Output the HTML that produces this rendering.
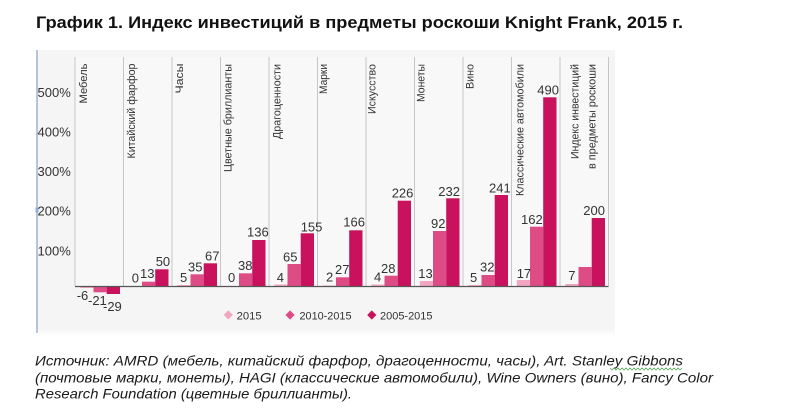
<!DOCTYPE html>
<html>
<head>
<meta charset="utf-8">
<style>
  html,body{margin:0;padding:0;background:#fff;}
  body{width:800px;height:416px;overflow:hidden;}
  svg{display:block;}
  text{font-family:"Liberation Sans","Noto Sans CJK SC",sans-serif;}
</style>
</head>
<body>
<svg width="800" height="416" viewBox="0 0 800 416" xmlns="http://www.w3.org/2000/svg">
  <defs>
    <linearGradient id="fade" x1="0" y1="0" x2="0" y2="1">
      <stop offset="0" stop-color="#F4F4F4"/>
      <stop offset="1" stop-color="#FFFFFF"/>
    </linearGradient>
  </defs>
  <rect x="0" y="0" width="800" height="416" fill="#FFFFFF"/>

  <!-- Title -->
  <text x="36" y="28" font-size="17" font-weight="bold" fill="#111" textLength="647" lengthAdjust="spacingAndGlyphs">График 1. Индекс инвестиций в предметы роскоши Knight Frank, 2015 г.</text>

  <!-- Panel -->
  <rect x="37" y="50" width="578" height="280" fill="#F5F5F5"/>
  <rect x="37" y="328" width="578" height="8" fill="url(#fade)"/>
  <rect x="75" y="57" width="533.5" height="229" fill="#F8F8F8"/>

  <!-- Left axis line -->
  <line x1="37" y1="50" x2="37" y2="333" stroke="#9FB4CC" stroke-width="1.5"/>
  <rect x="35.5" y="207.5" width="3" height="5" fill="#8FB0DA"/>

  <!-- Y labels -->
  <g font-size="13" fill="#333">
    <text x="37.5" y="97">500%</text>
    <text x="37.5" y="136.5">400%</text>
    <text x="37.5" y="176">300%</text>
    <text x="37.5" y="215.5">200%</text>
    <text x="37.5" y="255.5">100%</text>
  </g>

  <!-- Category separators -->
  <g stroke="#C6C6C6" stroke-width="1">
    <line x1="75" y1="57" x2="75" y2="286"/>
    <line x1="123.5" y1="57" x2="123.5" y2="286"/>
    <line x1="172" y1="57" x2="172" y2="286"/>
    <line x1="220.5" y1="57" x2="220.5" y2="286"/>
    <line x1="269" y1="57" x2="269" y2="286"/>
    <line x1="317.5" y1="57" x2="317.5" y2="286"/>
    <line x1="366" y1="57" x2="366" y2="286"/>
    <line x1="414.5" y1="57" x2="414.5" y2="286"/>
    <line x1="463" y1="57" x2="463" y2="286"/>
    <line x1="511.5" y1="57" x2="511.5" y2="286"/>
    <line x1="560" y1="57" x2="560" y2="286"/>
    <line x1="608.5" y1="57" x2="608.5" y2="286"/>
  </g>

  <!-- Category labels (rotated) -->
  <g font-size="11" fill="#333" text-anchor="end">
    <text transform="translate(87,63.5) rotate(-90)" textLength="40" lengthAdjust="spacingAndGlyphs">Мебель</text>
    <text transform="translate(135,63.5) rotate(-90)" textLength="95" lengthAdjust="spacingAndGlyphs">Китайский фарфор</text>
    <text transform="translate(183,63.5) rotate(-90)" textLength="30" lengthAdjust="spacingAndGlyphs">Часы</text>
    <text transform="translate(231.7,64) rotate(-90)" textLength="108" lengthAdjust="spacingAndGlyphs">Цветные бриллианты</text>
    <text transform="translate(280.4,64) rotate(-90)" textLength="75" lengthAdjust="spacingAndGlyphs">Драгоценности</text>
    <text transform="translate(327,64) rotate(-90)" textLength="30" lengthAdjust="spacingAndGlyphs">Марки</text>
    <text transform="translate(375.4,64) rotate(-90)" textLength="50" lengthAdjust="spacingAndGlyphs">Искусство</text>
    <text transform="translate(424.7,64) rotate(-90)" textLength="38" lengthAdjust="spacingAndGlyphs">Монеты</text>
    <text transform="translate(473.7,64) rotate(-90)" textLength="25" lengthAdjust="spacingAndGlyphs">Вино</text>
    <text transform="translate(523.7,64) rotate(-90)" textLength="132" lengthAdjust="spacingAndGlyphs">Классические автомобили</text>
    <text transform="translate(578.7,64) rotate(-90)" textLength="95" lengthAdjust="spacingAndGlyphs">Индекс инвестиций</text>
    <text transform="translate(595.4,64) rotate(-90)" textLength="105" lengthAdjust="spacingAndGlyphs">в предметы роскоши</text>
  </g>

  <!-- Bars: light (2015) -->
  <g fill="#F2A6C2">
    <rect x="80.3" y="286.5" width="13.2" height="1.5"/>
    <rect x="177.3" y="285" width="13.2" height="1.5"/>
    <rect x="274.3" y="284.5" width="13.2" height="2"/>
    <rect x="322.8" y="285.5" width="13.2" height="1"/>
    <rect x="371.3" y="284.5" width="13.2" height="2"/>
    <rect x="419.8" y="281" width="13.2" height="5.5"/>
    <rect x="468.3" y="285" width="13.2" height="1.5"/>
    <rect x="516.8" y="280" width="13.2" height="6.5"/>
    <rect x="565.3" y="284" width="13.2" height="2.5"/>
  </g>
  <!-- Bars: mid (2010-2015) -->
  <g fill="#DE4C86">
    <rect x="93.5" y="286.5" width="13.2" height="5.8"/>
    <rect x="142" y="281.7" width="13.2" height="4.8"/>
    <rect x="190.5" y="274.3" width="13.2" height="12.2"/>
    <rect x="239" y="273.3" width="13.2" height="13.2"/>
    <rect x="287.5" y="264" width="13.2" height="22.5"/>
    <rect x="336" y="277.3" width="13.2" height="9.2"/>
    <rect x="384.5" y="275.7" width="13.2" height="10.8"/>
    <rect x="433" y="231" width="13.2" height="55.5"/>
    <rect x="481.5" y="275" width="13.2" height="11.5"/>
    <rect x="530" y="226.7" width="13.2" height="59.8"/>
    <rect x="578.5" y="267" width="13.2" height="19.5"/>
  </g>
  <!-- Bars: dark (2005-2015) -->
  <g fill="#C8125E">
    <rect x="106.7" y="286.5" width="13.3" height="7.5"/>
    <rect x="155.2" y="269.3" width="13.3" height="17.2"/>
    <rect x="203.7" y="263.3" width="13.3" height="23.2"/>
    <rect x="252.2" y="240" width="13.3" height="46.5"/>
    <rect x="300.7" y="233.3" width="13.3" height="53.2"/>
    <rect x="349.2" y="230.3" width="13.3" height="56.2"/>
    <rect x="397.7" y="200.7" width="13.3" height="85.8"/>
    <rect x="446.2" y="198.3" width="13.3" height="88.2"/>
    <rect x="494.7" y="195" width="13.3" height="91.5"/>
    <rect x="543.2" y="97.3" width="13.3" height="189.2"/>
    <rect x="591.7" y="218" width="13.3" height="68.5"/>
  </g>

  <!-- Zero line -->
  <line x1="75" y1="286.5" x2="608.5" y2="286.5" stroke="#555" stroke-width="1.2"/>

  <!-- Value labels -->
  <g font-size="13" fill="#333">
    <text x="76.7" y="300">-6</text>
    <text x="88" y="305">-21</text>
    <text x="103" y="311">-29</text>
    <text x="131.7" y="282.7">0</text>
    <text x="140" y="278">13</text>
    <text x="155.7" y="266">50</text>
    <text x="180" y="282">5</text>
    <text x="188" y="271.7">35</text>
    <text x="205" y="260.7">67</text>
    <text x="228" y="282">0</text>
    <text x="238" y="270">38</text>
    <text x="247" y="236.7">136</text>
    <text x="276.7" y="282">4</text>
    <text x="283" y="261.7">65</text>
    <text x="300.7" y="231.7">155</text>
    <text x="326" y="281.7">2</text>
    <text x="335" y="274">27</text>
    <text x="343.3" y="226.7">166</text>
    <text x="374" y="281.7">4</text>
    <text x="381" y="273">28</text>
    <text x="391.7" y="197.7">226</text>
    <text x="418.3" y="278">13</text>
    <text x="431" y="228">92</text>
    <text x="438.3" y="196">232</text>
    <text x="470" y="282">5</text>
    <text x="480" y="271.7">32</text>
    <text x="489" y="192.7">241</text>
    <text x="516.7" y="278">17</text>
    <text x="521" y="224">162</text>
    <text x="537.3" y="94.3">490</text>
    <text x="568.3" y="280">7</text>
    <text x="583.3" y="215">200</text>
  </g>

  <!-- Legend -->
  <rect x="225" y="311.7" width="6.5" height="6.5" fill="#F2A6C2" transform="rotate(45 228.3 315)"/>
  <rect x="286.8" y="311.7" width="6.5" height="6.5" fill="#DE4C86" transform="rotate(45 290 315)"/>
  <rect x="368.5" y="311.7" width="6.5" height="6.5" fill="#C8125E" transform="rotate(45 371.7 315)"/>
  <g font-size="11" fill="#333">
    <text x="236.7" y="319.7" textLength="25" lengthAdjust="spacingAndGlyphs">2015</text>
    <text x="299.5" y="319.7" textLength="52" lengthAdjust="spacingAndGlyphs">2010-2015</text>
    <text x="380" y="319.7" textLength="52.5" lengthAdjust="spacingAndGlyphs">2005-2015</text>
  </g>

  <!-- Footer -->
  <g font-size="14" font-style="italic" fill="#1a1a1a">
    <text x="35" y="365.5" textLength="648" lengthAdjust="spacingAndGlyphs">Источник: AMRD (мебель,  китайский  фарфор,  драгоценности,  часы), Art. Stanley  Gibbons</text>
    <text x="35" y="382.5" textLength="678" lengthAdjust="spacingAndGlyphs">(почтовые марки, монеты), HAGI (классические автомобили),  Wine Owners (вино),  Fancy Color</text>
    <text x="35" y="398.5" textLength="317" lengthAdjust="spacingAndGlyphs">Research Foundation  (цветные бриллианты).</text>
  </g>
  <polyline fill="none" stroke="#5FA85F" stroke-width="0.8"
    points="610,368 612,370 614,368 616,370 618,368 620,370 622,368 624,370 626,368 628,370 630,368 632,370 634,368 636,370 638,368 640,370 642,368 644,370 646,368 648,370 650,368 652,370 654,368 656,370 658,368 660,370 662,368 664,370 666,368 668,370 670,368 672,370 674,368 676,370 678,368 680,370 682,368"/>
</svg>
</body>
</html>
